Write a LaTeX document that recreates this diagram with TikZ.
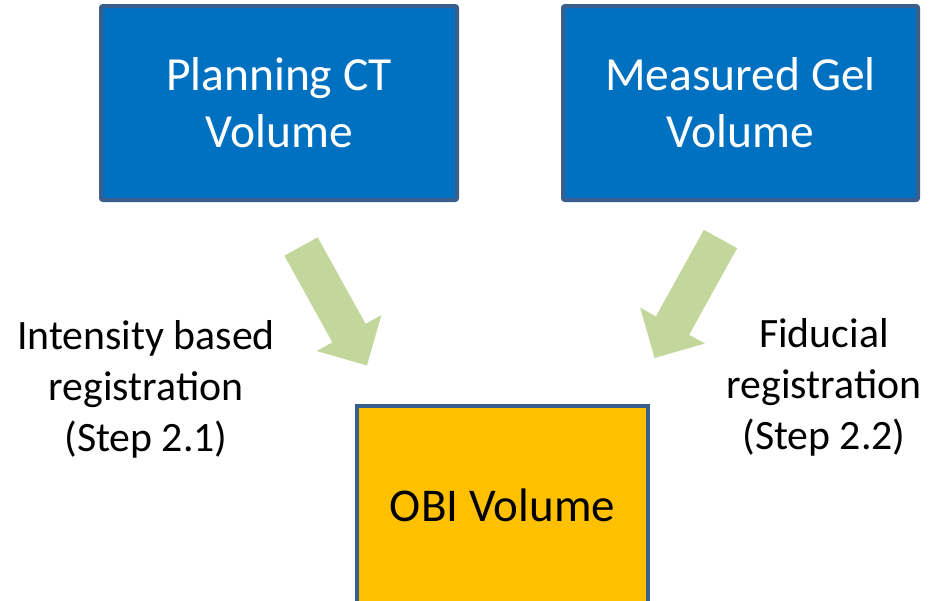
\documentclass[tikz,border=0pt]{standalone}
\usepackage{fontspec}
\setmainfont{Carlito}
\usetikzlibrary{positioning}

\definecolor{boxblue}{HTML}{0070C0}
\definecolor{edgeblue}{HTML}{3A5F8C}
\definecolor{obiorange}{HTML}{FFC000}
\definecolor{arrowgreen}{HTML}{C3D69B}

% fat green arrow: #1 tail centre, #2 direction
\newcommand{\blockarrow}[2]{%
  \begin{scope}[shift={#1},rotate=#2]
    \fill[arrowgreen] (0,-19) -- (99,-19) -- (99,-37) -- (136,0)
      -- (99,37) -- (99,19) -- (0,19) -- cycle;
  \end{scope}}

\begin{document}
\begin{tikzpicture}[x=1pt,y=-1pt]
\tikzstyle{volbox}=[draw=edgeblue,line width=4pt,rounded corners=2pt,align=center,inner sep=0pt]
\tikzstyle{steplabel}=[align=center,font=\fontsize{41.8}{51}\selectfont]
\useasboundingbox (0,0) rectangle (940,600);
\clip (0,0) rectangle (940,600);

% input volumes
\node[volbox,fill=boxblue,text=white,minimum width=356pt,minimum height=194pt,
  font=\fontsize{47.5}{57}\selectfont] (ct) at (279,103) {Planning CT\\Volume};
\node[volbox,fill=boxblue,text=white,minimum width=355pt,minimum height=194pt,
  font=\fontsize{47.5}{57}\selectfont] (gel) at (740.5,103) {Measured Gel\\Volume};

% target volume
\node[volbox,fill=obiorange,text=black,rounded corners=0pt,minimum width=291pt,minimum height=198pt,
  font=\fontsize{47}{57}\selectfont] (obi) at (502.5,505) {OBI Volume};

% registration arrows
\blockarrow{(301,246.5)}{-61}
\blockarrow{(720.5,239)}{-119}

\node[steplabel] (intreg) at (146,389) {Intensity based\\registration\\(Step 2.1)};
\node[steplabel] (fidreg) at (824,387) {Fiducial\\registration\\(Step 2.2)};
\end{tikzpicture}
\end{document}
